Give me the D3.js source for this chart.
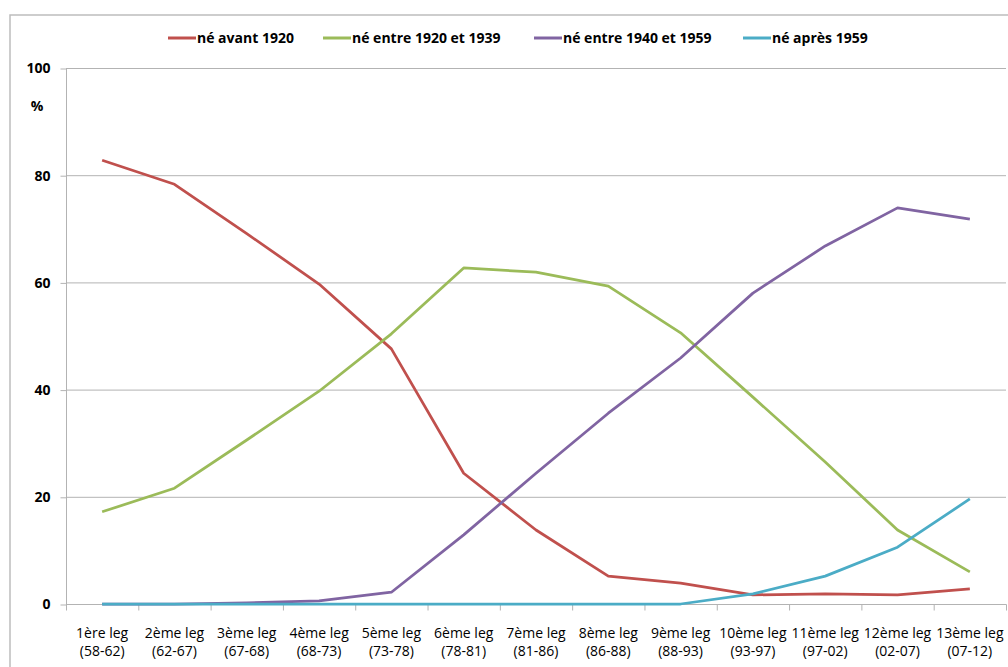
<!DOCTYPE html>
<meta charset="utf-8">
<style>
  body { margin: 0; background: #fff; }
  svg { display: block; font-family: "Open Sans", sans-serif; }
</style>
<svg width="1008" height="667"></svg>
<script src="https://d3js.org/d3.v7.min.js"></script>
<script>

var legs = ["1ère leg", "2ème leg", "3ème leg", "4ème leg", "5ème leg", "6ème leg", "7ème leg",
            "8ème leg", "9ème leg", "10ème leg", "11ème leg", "12ème leg", "13ème leg"];
var periods = ["(58-62)", "(62-67)", "(67-68)", "(68-73)", "(73-78)", "(78-81)", "(81-86)",
               "(86-88)", "(88-93)", "(93-97)", "(97-02)", "(02-07)", "(07-12)"];

var avant1920  = [82.8, 78.3, 69.1, 59.7, 47.6, 24.4, 13.8, 5.2, 3.9, 1.7, 1.9, 1.7, 2.8];
var entre2039  = [17.2, 21.6, 30.6, 39.7, 50.4, 62.7, 61.9, 59.3, 50.6, 38.6, 26.5, 13.8, 6.0];
var entre4059  = [0, 0, 0.2, 0.6, 2.2, 12.9, 24.4, 35.6, 45.9, 58.0, 66.8, 73.9, 71.8];
var apres1959  = [0, 0, 0, 0, 0, 0, 0, 0, 0, 1.9, 5.2, 10.6, 19.6];

var yTicks = [0, 20, 40, 60, 80, 100];

var series = [
  { name: "né avant 1920", values: avant1920, color: "#C0504D" },
  { name: "né entre 1920 et 1939", values: entre2039, color: "#9BBB59" },
  { name: "né entre 1940 et 1959", values: entre4059, color: "#8064A2" },
  { name: "né après 1959", values: apres1959, color: "#4BACC6" }
];

var svg = d3.select("svg");

// chart frame
svg.append("path")
    .attr("d", "M10,1008 V15 H1008")
    .attr("fill", "none")
    .attr("stroke", "#bdbdbd")
    .attr("stroke-width", 1.5);

var x = d3.scaleBand()
    .domain(d3.range(legs.length))
    .range([66, 1006]);

var y = d3.scaleLinear()
    .domain([0, 100])
    .range([604, 68]);

// gridlines
svg.append("g")
  .selectAll("line")
  .data(yTicks)
  .enter().append("line")
    .attr("x1", 66)
    .attr("x2", 1006)
    .attr("y1", function(d) { return y(d) + 0.5; })
    .attr("y2", function(d) { return y(d) + 0.5; })
    .attr("stroke", "#b3b3b3")
    .attr("stroke-width", 1);

// y axis
var gy = svg.append("g")
    .attr("transform", "translate(66.5,0.5)")
    .call(d3.axisLeft(y).tickValues(yTicks).tickSize(6).tickPadding(10).tickSizeOuter(0));
gy.select(".domain").attr("stroke", "#b3b3b3")
    .attr("d", "M0," + y(100) + "V" + (y(0) + 5));
gy.selectAll(".tick line").attr("stroke", "#b3b3b3");
gy.selectAll(".tick text")
    .attr("font-family", "'Open Sans', sans-serif")
    .attr("font-size", 14)
    .attr("font-weight", "bold")
    .attr("fill", "#000");

svg.append("text")
    .attr("x", 37)
    .attr("y", 111)
    .attr("text-anchor", "middle")
    .attr("font-size", 14)
    .attr("font-weight", "bold")
    .text("%");

// x axis
var gx = svg.append("g")
    .attr("transform", "translate(0.5," + (y(0) + 0.5) + ")")
    .call(d3.axisBottom(x).tickSize(0).tickFormat(""));
gx.select(".domain").attr("stroke", "#b3b3b3").attr("d", "M66,0H1006");

// category tick marks at band edges
gx.selectAll(".edge")
  .data(d3.range(legs.length + 1))
  .enter().append("line")
    .attr("class", "edge")
    .attr("x1", function(d) { return d < legs.length ? x(d) : x.range()[1]; })
    .attr("x2", function(d) { return d < legs.length ? x(d) : x.range()[1]; })
    .attr("y1", 0)
    .attr("y2", 6)
    .attr("stroke", "#b3b3b3");

var lbl = svg.append("g")
  .selectAll("text")
  .data(legs)
  .enter().append("text")
    .attr("x", function(d, i) { return x(i) + x.bandwidth() / 2; })
    .attr("y", 638)
    .attr("text-anchor", "middle")
    .attr("font-size", 14)
    .attr("fill", "#000");
lbl.append("tspan").text(function(d) { return d; });
lbl.append("tspan")
    .attr("x", function(d, i) { return x(i) + x.bandwidth() / 2; })
    .attr("dy", 18)
    .text(function(d, i) { return periods[i]; });

// lines
var line = d3.line()
    .x(function(d, i) { return x(i) + x.bandwidth() / 2; })
    .y(function(d) { return y(d); });

svg.append("g")
  .selectAll("path")
  .data(series)
  .enter().append("path")
    .attr("d", function(d) { return line(d.values); })
    .attr("fill", "none")
    .attr("stroke", function(d) { return d.color; })
    .attr("stroke-width", 2.75)
    .attr("stroke-linejoin", "round");

// legend
var legX = [168, 323, 534, 743];
var leg = svg.append("g")
  .selectAll("g")
  .data(series)
  .enter().append("g")
    .attr("transform", function(d, i) { return "translate(" + legX[i] + ",38)"; });
leg.append("line")
    .attr("x1", 0).attr("x2", 28)
    .attr("stroke", function(d) { return d.color; })
    .attr("stroke-width", 3);
leg.append("text")
    .attr("x", 29)
    .attr("dy", "0.35em")
    .attr("font-size", 14)
    .attr("font-weight", "bold")
    .text(function(d) { return d.name; });

</script>
